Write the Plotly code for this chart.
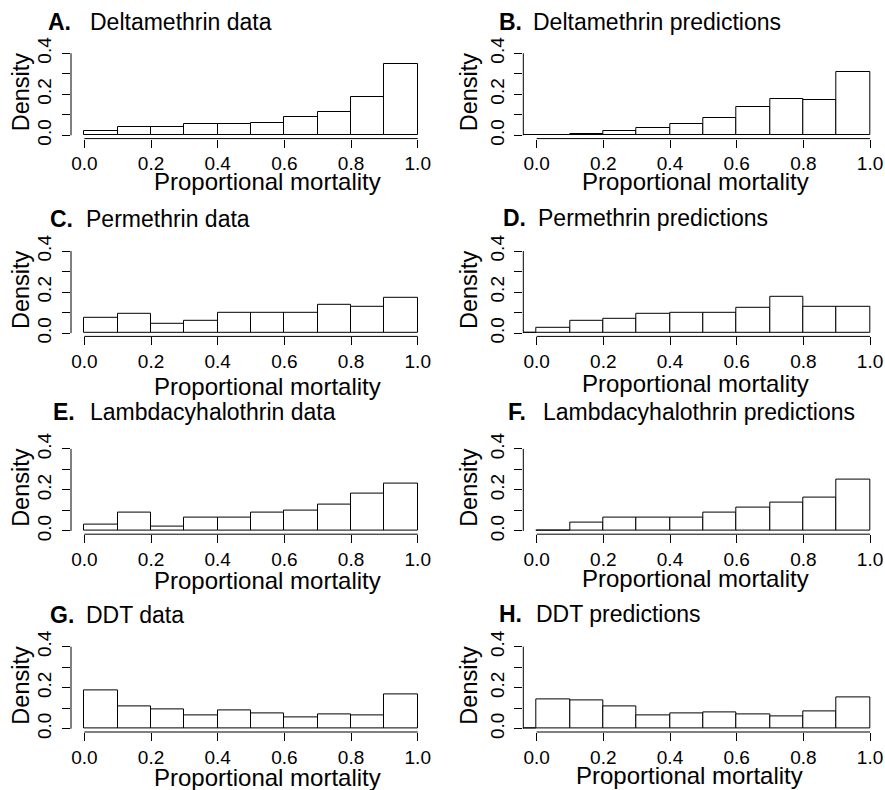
import plotly.graph_objects as go

# ---------------- data ----------------
bin_edges = [-0.1, 0.0, 0.1, 0.2, 0.3, 0.4, 0.5, 0.6, 0.7, 0.8, 0.9, 1.0]

deltamethrin_data = [None, 0.019, 0.040, 0.040, 0.055, 0.055, 0.058, 0.087, 0.112, 0.186, 0.347]
deltamethrin_pred = [0.003, 0.003, 0.008, 0.021, 0.036, 0.057, 0.086, 0.136, 0.177, 0.170, 0.311]
permethrin_data = [None, 0.077, 0.092, 0.046, 0.059, 0.098, 0.100, 0.097, 0.136, 0.126, 0.172]
permethrin_pred = [0.001, 0.028, 0.059, 0.069, 0.092, 0.098, 0.098, 0.125, 0.177, 0.126, 0.126]
lambda_data = [None, 0.031, 0.088, 0.021, 0.067, 0.067, 0.088, 0.099, 0.130, 0.180, 0.231]
lambda_pred = [None, 0.003, 0.042, 0.065, 0.065, 0.067, 0.089, 0.115, 0.140, 0.164, 0.250]
ddt_data = [None, 0.189, 0.107, 0.092, 0.067, 0.089, 0.077, 0.056, 0.070, 0.066, 0.167]
ddt_pred = [0.001, 0.141, 0.136, 0.111, 0.067, 0.077, 0.082, 0.070, 0.062, 0.084, 0.152]

panel_letters = ["A.", "B.", "C.", "D.", "E.", "F.", "G.", "H."]
panel_titles = ["Deltamethrin data", "Deltamethrin predictions",
                "Permethrin data", "Permethrin predictions",
                "Lambdacyhalothrin data", "Lambdacyhalothrin predictions",
                "DDT data", "DDT predictions"]
panel_values = [deltamethrin_data, deltamethrin_pred, permethrin_data, permethrin_pred,
                lambda_data, lambda_pred, ddt_data, ddt_pred]

x_tick_vals = [0.0, 0.2, 0.4, 0.6, 0.8, 1.0]
x_tick_text = ["0.0", "0.2", "0.4", "0.6", "0.8", "1.0"]
y_tick_vals = [0.0, 0.1, 0.2, 0.3, 0.4]
y_tick_text = ["0.0", "", "0.2", "", "0.4"]
x_label = "Proportional mortality"
y_label = "Density"

# ---------------- layout geometry (pixels) ----------------
W, H = 885, 790
FONT = "Liberation Sans, Arial, Helvetica, sans-serif"
px_per_unit = 333.4
col_left = [71.0, 523.3]
col_range = [[-0.04, 1.10], [-0.04, -0.04 + (W - 523.3) / px_per_unit]]
row_top = [50.0, 247.8, 445.6, 643.4]
row_h = 88.6
y_range = [-0.016, 0.416]

letter_x = [46.7, 498.3, 49.3, 501.7, 51.7, 506.7, 49.3, 498.3]
title_x = [89.3, 531.7, 85.0, 537.3, 89.3, 541.7, 85.0, 535.0]
title_y = [21.5, 21.5, 218.7, 218.3, 412.0, 412.0, 615.0, 614.0]
xlab_x = [267, 695.8, 267, 695.8, 267, 695.8, 267, 689.0]
xlab_y = [181.7, 181.7, 387.0, 383.3, 580.0, 578.3, 777.0, 775.5]
ylab_x = [21.0, 469.0]

mids = [(bin_edges[i] + bin_edges[i + 1]) / 2 for i in range(len(bin_edges) - 1)]
widths = [bin_edges[i + 1] - bin_edges[i] for i in range(len(bin_edges) - 1)]

fig = go.Figure()
layout = dict(width=W, height=H, margin=dict(l=0, r=0, t=0, b=0, autoexpand=False),
              template="none",
              paper_bgcolor="white", plot_bgcolor="white", showlegend=False,
              font=dict(family=FONT, color="black"))
shapes, annotations = [], []

for i, vals in enumerate(panel_values):
    r, c = divmod(i, 2)
    n = i + 1
    xa = "x" if n == 1 else f"x{n}"
    ya = "y" if n == 1 else f"y{n}"
    fig.add_trace(go.Bar(x=mids, y=vals, width=widths, xaxis=xa, yaxis=ya,
                         marker=dict(color="white", line=dict(color="black", width=1)),
                         hoverinfo="skip"))
    x0 = col_left[c] / W
    x1 = min(1.0, (col_left[c] + (col_range[c][1] - col_range[c][0]) * px_per_unit) / W)
    y1 = 1 - row_top[r] / H
    y0 = 1 - (row_top[r] + row_h) / H
    xkey = "xaxis" if n == 1 else f"xaxis{n}"
    ykey = "yaxis" if n == 1 else f"yaxis{n}"
    layout[xkey] = dict(domain=[x0, x1], range=col_range[c], anchor=ya,
                        automargin=False,
                        showgrid=False, zeroline=False, showline=False,
                        tickmode="array", tickvals=x_tick_vals, ticktext=x_tick_text,
                        ticks="outside", ticklen=8, tickwidth=1, tickcolor="black",
                        tickfont=dict(size=19, family=FONT, color="black"),
                        fixedrange=True)
    layout[ykey] = dict(domain=[y0, y1], range=y_range, anchor=xa,
                        automargin=False,
                        showgrid=False, zeroline=False, showline=False,
                        tickmode="array", tickvals=y_tick_vals, ticktext=y_tick_text,
                        ticks="outside", ticklen=8, tickwidth=1, tickcolor="black",
                        tickangle=-90, ticklabelstandoff=3,
                        tickfont=dict(size=19, family=FONT, color="black"),
                        fixedrange=True)
    # R-style axis lines spanning only the tick range
    shapes.append(dict(type="line", xref=f"{xa} domain", yref=ya, x0=0, x1=0,
                       y0=y_tick_vals[0], y1=y_tick_vals[-1],
                       line=dict(color="black", width=1)))
    shapes.append(dict(type="line", xref=xa, yref=f"{ya} domain",
                       x0=x_tick_vals[0], x1=x_tick_vals[-1], y0=0, y1=0,
                       line=dict(color="black", width=1)))
    # panel letter + title
    annotations.append(dict(text=f"<b>{panel_letters[i]}</b>", xref="paper", yref="paper",
                            x=(letter_x[i] - 1) / W, y=1 - title_y[i] / H,
                            xanchor="left", yanchor="middle", showarrow=False,
                            font=dict(size=23, family=FONT, color="black")))
    annotations.append(dict(text=panel_titles[i], xref="paper", yref="paper",
                            x=(title_x[i] - 1) / W, y=1 - title_y[i] / H,
                            xanchor="left", yanchor="middle", showarrow=False,
                            font=dict(size=23, family=FONT, color="black")))
    # axis labels
    annotations.append(dict(text=x_label, xref="paper", yref="paper",
                            x=xlab_x[i] / W, y=1 - xlab_y[i] / H,
                            xanchor="center", yanchor="middle", showarrow=False,
                            font=dict(size=24, family=FONT, color="black")))
    annotations.append(dict(text=y_label, xref="paper", yref=ya,
                            x=ylab_x[c] / W, y=0.21, textangle=-90,
                            xanchor="center", yanchor="middle", showarrow=False,
                            font=dict(size=23.5, family=FONT, color="black")))

layout["shapes"] = shapes
layout["annotations"] = annotations
layout["bargap"] = 0
fig.update_layout(**layout)
fig.write_html("out.html", config={"displayModeBar": False},
               post_script="document.body.style.margin='0';document.body.style.overflow='hidden';")
